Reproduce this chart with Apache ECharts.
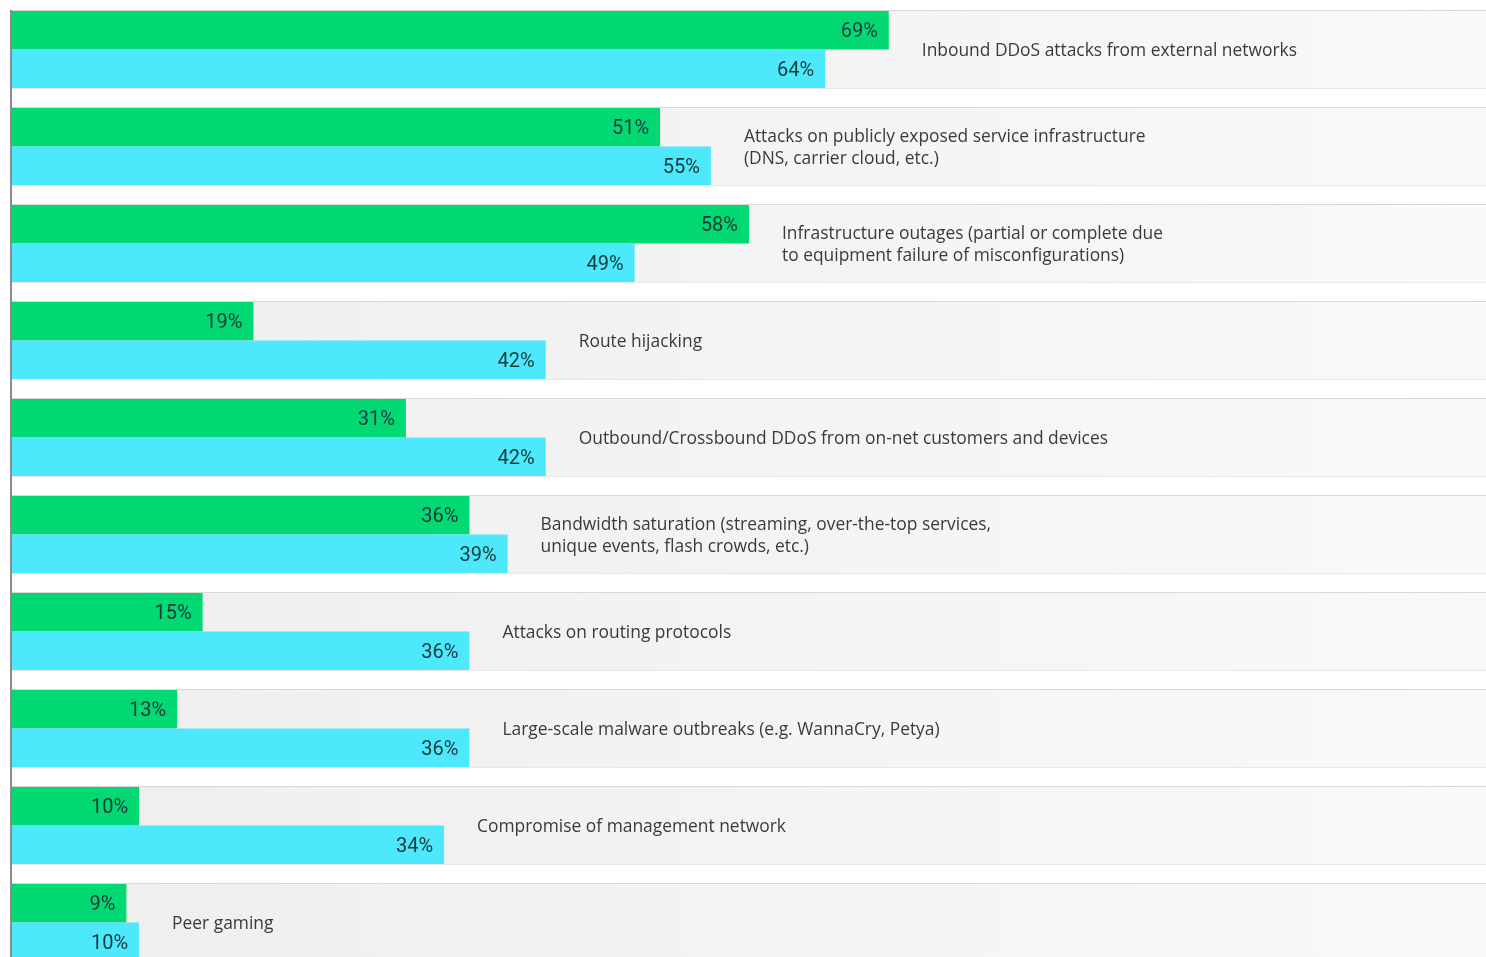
<!DOCTYPE html>
<html>
<head>
<meta charset="utf-8">
<script src="https://cdn.jsdelivr.net/npm/echarts@6/dist/echarts.min.js"></script>
<style>
  html, body { margin: 0; padding: 0; background: #ffffff; overflow: hidden; }
  /* the last row runs past the bottom edge of the window */
  #chart { width: 1486px; height: 972px; }
</style>
</head>
<body>
<div id="chart"></div>
<script>
// Threat categories, top to bottom
const categories = [
  'Inbound DDoS attacks from external networks',
  'Attacks on publicly exposed service infrastructure\n(DNS, carrier cloud, etc.)',
  'Infrastructure outages (partial or complete due\nto equipment failure of misconfigurations)',
  'Route hijacking',
  'Outbound/Crossbound DDoS from on-net customers and devices',
  'Bandwidth saturation (streaming, over-the-top services,\nunique events, flash crowds, etc.)',
  'Attacks on routing protocols',
  'Large-scale malware outbreaks (e.g. WannaCry, Petya)',
  'Compromise of management network',
  'Peer gaming'
];

// Share of respondents (%), two survey groups
const greenValues = [69, 51, 58, 19, 31, 36, 15, 13, 10, 9];
const cyanValues  = [64, 55, 49, 42, 42, 39, 36, 36, 34, 10];

const chart = echarts.init(document.getElementById('chart'));

// One entry per row: the longer bar of the pair and the row index
const rowData = categories.map((c, i) => [Math.max(greenValues[i], cyanValues[i]), i]);

const valueLabel = {
  show: true,
  position: 'insideRight',
  distance: 11,
  offset: [0, 2],
  formatter: '{c}%',
  fontFamily: 'Roboto, sans-serif',
  fontSize: 20,
  color: '#173a3a'
};

chart.setOption({
  animation: false,
  backgroundColor: '#ffffff',
  grid: { left: 12, right: 0, top: 1, bottom: 1, containLabel: false },
  xAxis: {
    type: 'value', min: 0, max: 116,
    show: false
  },
  yAxis: {
    type: 'category',
    data: categories,
    inverse: true,
    axisLine: { show: false },
    axisTick: { show: false },
    axisLabel: { show: false },
    splitLine: { show: false }
  },
  series: [
    {
      // Row backgrounds, left rule and category captions
      type: 'custom',
      z: 0,
      silent: true,
      encode: { x: 0, y: 1 },
      data: rowData,
      renderItem: function (params, api) {
        const cs = params.coordSys;
        const idx = api.value(1);
        const centre = api.coord([0, idx]);
        const band = api.size([0, 1])[1];
        const half = 38.5;
        const top = centre[1] - half;
        const left = cs.x;
        const right = cs.x + cs.width;
        const tip = api.coord([api.value(0), idx])[0];
        return {
          type: 'group',
          children: [
            {
              type: 'rect',
              shape: { x: left, y: top, width: right - left, height: half * 2 },
              style: {
                fill: new echarts.graphic.LinearGradient(0, 0, 1, 0, [
                  { offset: 0, color: '#eeeeee' },
                  { offset: 0.55, color: '#f4f4f4' },
                  { offset: 1, color: '#f9f9f9' }
                ])
              }
            },
            {
              type: 'line',
              shape: { x1: left, y1: top - 0.5, x2: right, y2: top - 0.5 },
              style: { stroke: '#d9d9d9', lineWidth: 1 }
            },
            {
              type: 'line',
              shape: { x1: left, y1: top + half * 2 + 0.5, x2: right, y2: top + half * 2 + 0.5 },
              style: { stroke: '#e8e8e8', lineWidth: 1 }
            },
            {
              type: 'line',
              shape: { x1: left - 1, y1: top - 1, x2: left - 1, y2: top - 1 + band },
              style: { stroke: '#8c8c8c', lineWidth: 2 }
            },
            {
              type: 'text',
              x: tip + 33,
              y: centre[1] + 1.5,
              style: {
                text: categories[idx],
                fontFamily: '"Open Sans", sans-serif',
                fontSize: 17.4,
                lineHeight: 22,
                fill: '#3a3a3a',
                align: 'left',
                verticalAlign: 'middle'
              }
            }
          ]
        };
      }
    },
    {
      name: 'Green',
      type: 'bar',
      z: 2,
      data: greenValues,
      barWidth: 38.5,
      barGap: '0%',
      itemStyle: { color: '#02d973' },
      label: valueLabel
    },
    {
      name: 'Cyan',
      type: 'bar',
      z: 2,
      data: cyanValues,
      barWidth: 38.5,
      barGap: '0%',
      itemStyle: { color: '#4ee8fd' },
      label: valueLabel
    }
  ]
});
</script>
</body>
</html>
